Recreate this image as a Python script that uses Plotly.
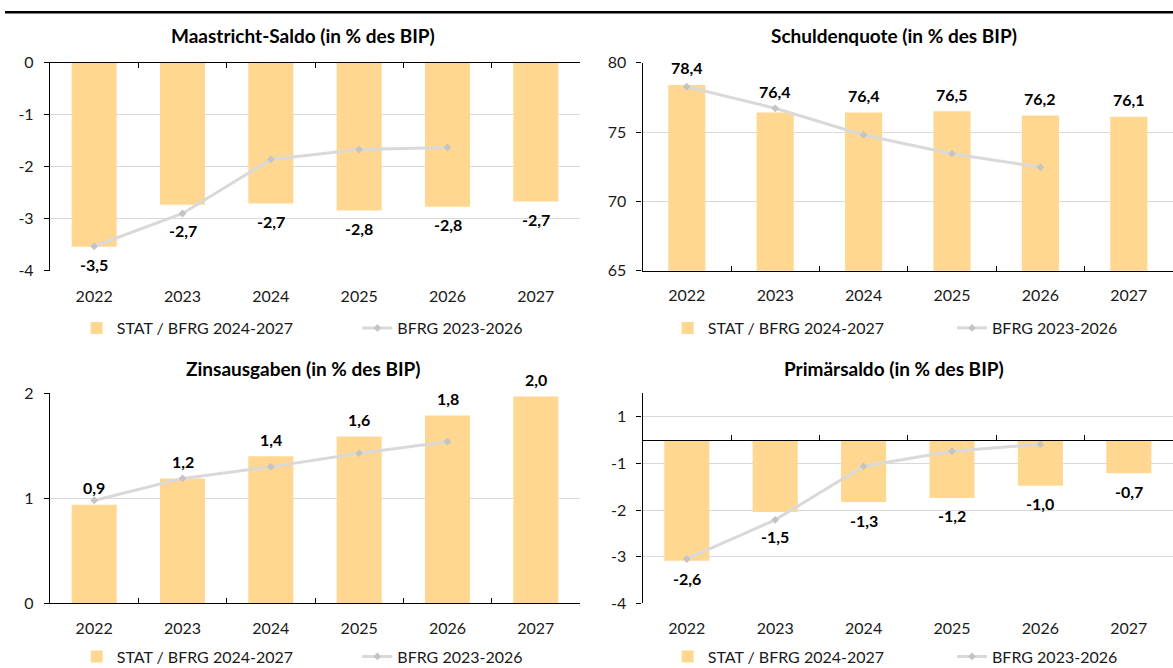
import plotly.graph_objects as go

# ---------------- data ----------------
years = ["2022", "2023", "2024", "2025", "2026", "2027"]
years_bfrg = ["2022", "2023", "2024", "2025", "2026"]

titles = [
    "Maastricht-Saldo (in % des BIP)",
    "Schuldenquote (in % des BIP)",
    "Zinsausgaben (in % des BIP)",
    "Primärsaldo (in % des BIP)",
]
series_bar_name = "STAT / BFRG 2024-2027"
series_line_name = "BFRG 2023-2026"

maastricht_stat = [-3.54, -2.73, -2.71, -2.84, -2.77, -2.67]
maastricht_bfrg = [-3.53, -2.90, -1.86, -1.67, -1.63]

schulden_stat = [78.4, 76.4, 76.4, 76.5, 76.2, 76.1]
schulden_bfrg = [78.27, 76.71, 74.79, 73.44, 72.46]

zins_stat = [0.94, 1.19, 1.40, 1.59, 1.79, 1.97]
zins_bfrg = [0.98, 1.19, 1.30, 1.43, 1.54]

primaer_stat = [-2.59, -1.54, -1.33, -1.24, -0.98, -0.71]
primaer_bfrg = [-2.55, -1.71, -0.56, -0.24, -0.09]

# y-axis ticks
maastricht_ticks = [-4, -3, -2, -1, 0]
schulden_ticks = [65, 70, 75, 80]
zins_ticks = [0, 1, 2]
primaer_tickvals = [-3.5, -2.5, -1.5, -0.5, 0.5]
primaer_ticktext = ["-4", "-3", "-2", "-1", "1"]

# ---------------- styles ----------------
W, H = 1173, 668
FONT = "Lato"
BAR_COLOR = "#FFD791"
LINE_COLOR = "#D9D9D9"
MARK_COLOR = "#C4C4C4"
GRID = "#D9D9D9"

XL = [50 / W, 580 / W]
XR = [642.6 / W, 1.0]
YT = [1 - 270.7 / H, 1 - 62.7 / H]
YB = [1 - 603.3 / H, 1 - 393.4 / H]

panels = [
    dict(title=titles[0], stat=maastricht_stat, bfrg=maastricht_bfrg, xd=XL, yd=YT,
         yrange=[-4, 0], tickvals=maastricht_ticks, ticktext=[str(t) for t in maastricht_ticks],
         barw=0.51, nudge={1: -8}, axis_at_zero="top"),
    dict(title=titles[1], stat=schulden_stat, bfrg=schulden_bfrg, xd=XR, yd=YT,
         yrange=[65, 80], tickvals=schulden_ticks, ticktext=[str(t) for t in schulden_ticks],
         barw=0.42, nudge={1: 4}, axis_at_zero=None),
    dict(title=titles[2], stat=zins_stat, bfrg=zins_bfrg, xd=XL, yd=YB,
         yrange=[0, 2], tickvals=zins_ticks, ticktext=[str(t) for t in zins_ticks],
         barw=0.51, nudge={}, axis_at_zero=None),
    dict(title=titles[3], stat=primaer_stat, bfrg=primaer_bfrg, xd=XR, yd=YB,
         yrange=[-3.5, 1.0], tickvals=primaer_tickvals, ticktext=primaer_ticktext,
         barw=0.51, nudge={1: -7}, axis_at_zero="free"),
]


def fmt(v):
    return f"{v:.1f}".replace(".", ",")


fig = go.Figure()
annotations = []
layout = {}
TICKFONT = dict(family=FONT, size=16, color="#1a1a1a")

for i, p in enumerate(panels, start=1):
    xa = "x" if i == 1 else f"x{i}"
    ya = "y" if i == 1 else f"y{i}"
    xkey = "xaxis" if i == 1 else f"xaxis{i}"
    ykey = "yaxis" if i == 1 else f"yaxis{i}"
    bar_leg = "legend" if i == 1 else f"legend{2 * i - 1}"
    line_leg = f"legend{2 * i}"

    fig.add_trace(go.Bar(
        x=years, y=p["stat"], name=series_bar_name, marker_color=BAR_COLOR,
        marker_line_width=0, width=p["barw"], xaxis=xa, yaxis=ya, legend=bar_leg,
        hoverinfo="skip"))
    fig.add_trace(go.Scatter(
        x=years_bfrg, y=p["bfrg"], name=series_line_name, mode="lines+markers",
        line=dict(color=LINE_COLOR, width=3),
        marker=dict(symbol="diamond", size=6, color=MARK_COLOR),
        xaxis=xa, yaxis=ya, legend=line_leg, hoverinfo="skip"))

    x_has_line = p["axis_at_zero"] is None
    layout[xkey] = dict(
        domain=p["xd"], anchor=ya, type="category", categoryarray=years,
        range=[-0.5, 5.5], showgrid=False, zeroline=False,
        showline=x_has_line, linecolor="#000000", linewidth=1.3,
        ticks="inside" if x_has_line else "", tickson="boundaries", ticklen=5,
        tickcolor="#000000", tickfont=TICKFONT,
        ticklabelstandoff=10 if x_has_line else 14,
    )
    layout[ykey] = dict(
        domain=p["yd"], anchor=xa, range=p["yrange"], tickmode="array",
        tickvals=p["tickvals"], ticktext=p["ticktext"], showgrid=True,
        gridcolor=GRID, gridwidth=1, zeroline=False, showline=True,
        linecolor="#000000", linewidth=1.3, ticks="outside", ticklen=5,
        tickcolor="#000000", tickfont=TICKFONT, ticklabelstandoff=7,
    )

    for k, v in enumerate(p["stat"]):
        base = 17 if v >= 0 else -18
        annotations.append(dict(
            x=k, y=v, xref=xa, yref=ya, text=f"<b>{fmt(v)}</b>", showarrow=False,
            yshift=base + p["nudge"].get(k, 0), xanchor="center", yanchor="middle",
            font=dict(family=FONT, size=16, color="#000000")))

    cx = (303 if p["xd"] is XL else 894) / W
    cy = 1 - (36 if p["yd"] is YT else 368) / H
    annotations.append(dict(
        x=cx, y=cy, xref="paper", yref="paper", text=f"<b>{p['title']}</b>",
        showarrow=False, xanchor="center", yanchor="middle",
        font=dict(family=FONT, size=19, color="#000000")))

    left = p["xd"] is XL
    ly = 1 - (328 if p["yd"] is YT else 656.5) / H
    bx = (116.7 if left else 707.7) - 40
    lx = (399.3 if left else 994) - 42
    for key, xpos in ((bar_leg, bx), (line_leg, lx)):
        layout[key] = dict(
            x=xpos / W, y=ly, xanchor="left", yanchor="middle", orientation="h",
            bgcolor="rgba(0,0,0,0)", borderwidth=0,
            font=dict(family=FONT, size=16, color="#1a1a1a"),
            itemwidth=30, tracegroupgap=0)

# overlay axis for Maastricht: black category axis line at value 0 (top)
fig.add_trace(go.Scatter(x=years, y=[None] * 6, xaxis="x5", yaxis="y",
                         showlegend=False, hoverinfo="skip", mode="markers"))
layout["xaxis5"] = dict(
    overlaying="x", anchor="y", side="top", type="category", categoryarray=years,
    range=[-0.5, 5.5], showgrid=False, zeroline=False, showline=True,
    linecolor="#000000", linewidth=1.3, ticks="inside", tickson="boundaries",
    ticklen=5, tickcolor="#000000", showticklabels=False)

# overlay axis for Primärsaldo: black category axis line at value 0
pr = panels[3]["yrange"]
zero_pos = YB[0] + (0 - pr[0]) / (pr[1] - pr[0]) * (YB[1] - YB[0])
fig.add_trace(go.Scatter(x=years, y=[None] * 6, xaxis="x6", yaxis="y4",
                         showlegend=False, hoverinfo="skip", mode="markers"))
layout["xaxis6"] = dict(
    overlaying="x4", anchor="free", position=zero_pos, side="bottom",
    type="category", categoryarray=years, range=[-0.5, 5.5], showgrid=False,
    zeroline=False, showline=True, linecolor="#000000", linewidth=1.3,
    ticks="inside", tickson="boundaries", ticklen=5, tickcolor="#000000",
    showticklabels=False)

fig.update_layout(
    width=W, height=H, margin=dict(l=0, r=0, t=0, b=0, autoexpand=False),
    paper_bgcolor="white", plot_bgcolor="white",
    font=dict(family=FONT), annotations=annotations,
    shapes=[dict(type="line", xref="paper", yref="paper", x0=5 / W, x1=1,
                 y0=1 - 12.3 / H, y1=1 - 12.3 / H,
                 line=dict(color="#000000", width=2.5))],
    **layout,
)

fig.write_html(
    "out.html",
    config={"displayModeBar": False},
    post_script=(
        "var r=document.documentElement;"
        "r.style.margin='0';r.style.padding='0';r.style.overflow='hidden';"
        "document.body.style.margin='0';document.body.style.padding='0';"
        "document.body.style.overflow='hidden';"
    ),
)
